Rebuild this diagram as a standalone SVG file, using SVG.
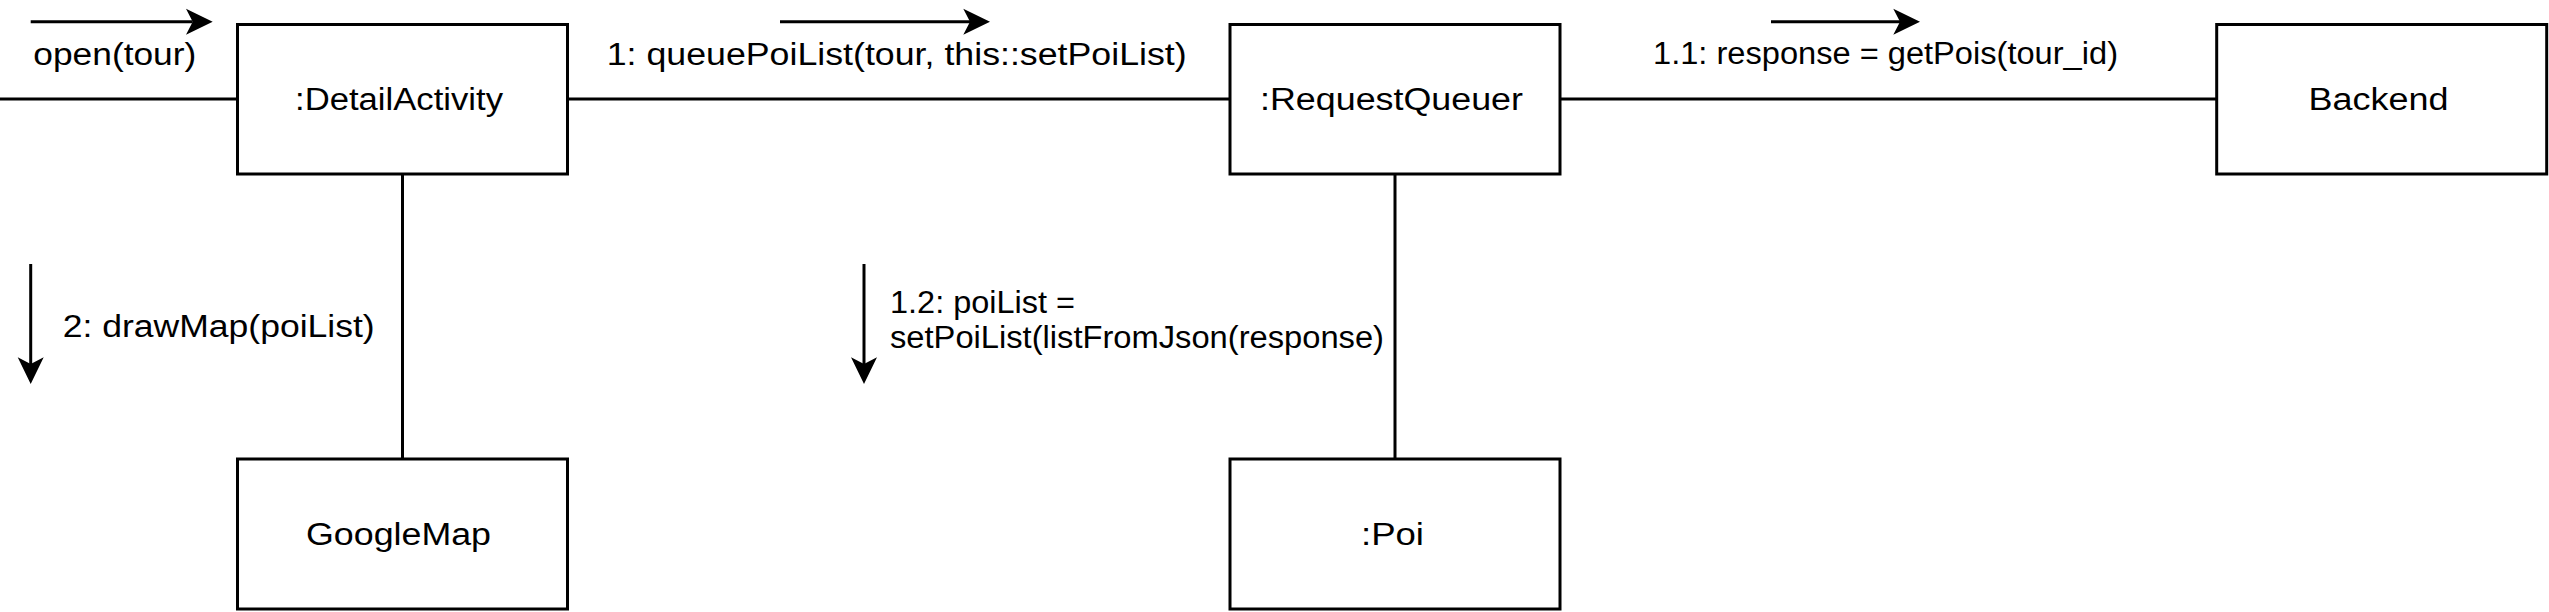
<svg xmlns="http://www.w3.org/2000/svg" width="2549" height="612" viewBox="0 0 2549 612">
<style>
  .box { fill: #ffffff; stroke: #000000; stroke-width: 3; }
  .conn { fill: none; stroke: #000000; stroke-width: 3; }
  .msg { fill: none; stroke: #000000; stroke-width: 3; marker-end: url(#arrow); }
  text { font-family: "Liberation Sans", Arial, Helvetica, sans-serif; font-size: 31px; fill: #000000; }
  .lbl { text-anchor: middle; }
</style>
<defs>
  <marker id="arrow" markerUnits="userSpaceOnUse" viewBox="-8 -14 30 28" markerWidth="30" markerHeight="28" refX="0" refY="0" orient="auto">
    <path d="M20,0 L-6.7,-13 L0,0 L-6.7,13 Z" fill="#000000"/>
  </marker>
</defs>
<rect width="2549" height="612" fill="#ffffff"/>
<g id="connectors">
  <line class="conn" x1="0" y1="99" x2="237.5" y2="99"/>
  <line class="conn" x1="567.5" y1="99" x2="1230" y2="99"/>
  <line class="conn" x1="1560" y1="99" x2="2216.7" y2="99"/>
  <line class="conn" x1="402.5" y1="174" x2="402.5" y2="459"/>
  <line class="conn" x1="1395" y1="174" x2="1395" y2="459"/>
  <line class="msg" x1="30.7" y1="21.7" x2="192.7" y2="21.7"/>
  <line class="msg" x1="780" y1="21.7" x2="970" y2="21.7"/>
  <line class="msg" x1="1771" y1="21.7" x2="1900" y2="21.7"/>
  <line class="msg" x1="30.7" y1="264" x2="30.7" y2="364"/>
  <line class="msg" x1="864" y1="264" x2="864" y2="364"/>
  <text x="33.3" y="65" textLength="163" lengthAdjust="spacingAndGlyphs">open(tour)</text>
  <text x="606.7" y="65" textLength="580" lengthAdjust="spacingAndGlyphs">1: queuePoiList(tour, this::setPoiList)</text>
  <text x="1653" y="64" textLength="465" lengthAdjust="spacingAndGlyphs">1.1: response = getPois(tour_id)</text>
  <text x="62.7" y="337" textLength="312" lengthAdjust="spacingAndGlyphs">2: drawMap(poiList)</text>
  <text x="890" y="313" textLength="185" lengthAdjust="spacingAndGlyphs">1.2: poiList =</text>
  <text x="890" y="348" textLength="494" lengthAdjust="spacingAndGlyphs">setPoiList(listFromJson(response)</text>
</g>
<g id="detailActivity">
  <rect class="box" x="237.5" y="24.5" width="330" height="149.5"/>
  <text class="lbl" x="399" y="110" textLength="208" lengthAdjust="spacingAndGlyphs">:DetailActivity</text>
</g>
<g id="requestQueuer">
  <rect class="box" x="1230" y="24.5" width="330" height="149.5"/>
  <text class="lbl" x="1391.5" y="110" textLength="263" lengthAdjust="spacingAndGlyphs">:RequestQueuer</text>
</g>
<g id="backend">
  <rect class="box" x="2216.7" y="24.5" width="330" height="149.5"/>
  <text class="lbl" x="2378.5" y="110" textLength="140" lengthAdjust="spacingAndGlyphs">Backend</text>
</g>
<g id="googleMap">
  <rect class="box" x="237.5" y="459" width="330" height="150"/>
  <text class="lbl" x="398.5" y="545" textLength="185" lengthAdjust="spacingAndGlyphs">GoogleMap</text>
</g>
<g id="poi">
  <rect class="box" x="1230" y="459" width="330" height="150"/>
  <text class="lbl" x="1392.5" y="545" textLength="63" lengthAdjust="spacingAndGlyphs">:Poi</text>
</g>
</svg>
